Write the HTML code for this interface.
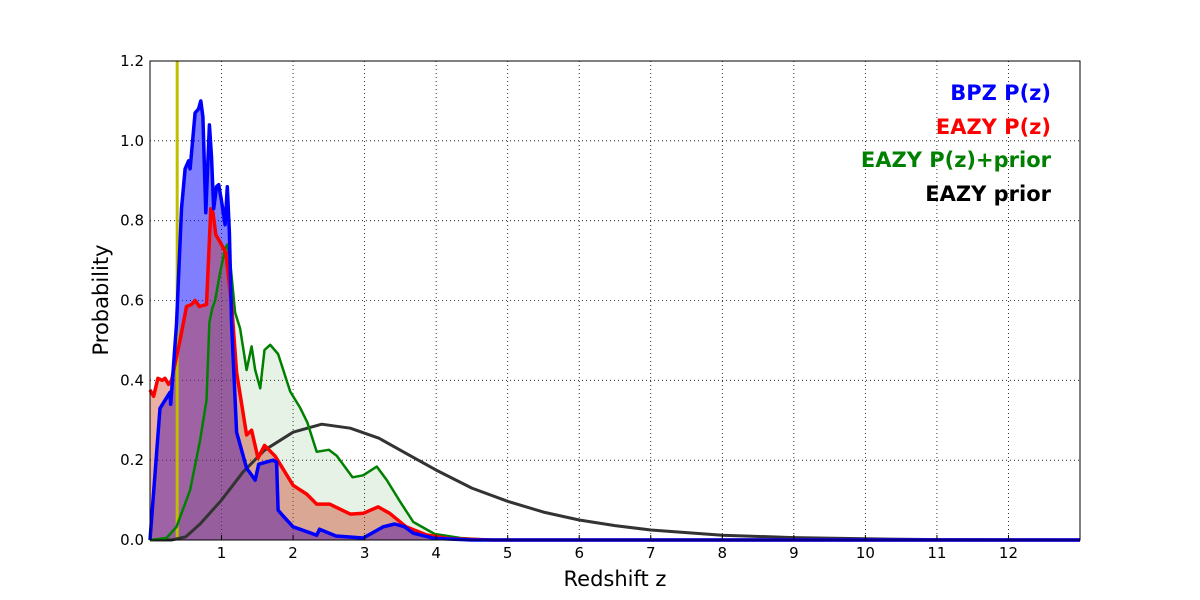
<!DOCTYPE html>
<html><head><meta charset="utf-8"><style>
html,body{margin:0;padding:0;background:#fff;width:1200px;height:600px;overflow:hidden}
svg{display:block}
</style></head><body>
<svg id="chart" width="1200" height="600" xmlns="http://www.w3.org/2000/svg" font-family="DejaVu Sans, Liberation Sans, sans-serif">
<g id="grid"></g>
<g id="fills"></g>
<g id="lines"></g>
<rect x="150" y="61" width="930" height="479" fill="none" stroke="#000" stroke-width="1"/>
<g id="ticks" font-size="15"></g>
<text x="615" y="586" font-size="21" text-anchor="middle">Redshift z</text>
<text x="108" y="300" font-size="21" text-anchor="middle" transform="rotate(-90 108 300)">Probability</text>
<g font-size="21" font-weight="bold" text-anchor="end">
<text x="1051" y="100" fill="#0000ff">BPZ P(z)</text>
<text x="1051" y="134" fill="#ff0000">EAZY P(z)</text>
<text x="1051" y="167" fill="#008000">EAZY P(z)+prior</text>
<text x="1051" y="201" fill="#000">EAZY prior</text>
</g>
</svg>
<script>
const xTicks=[1,2,3,4,5,6,7,8,9,10,11,12];
const yTicks=[0.0,0.2,0.4,0.6,0.8,1.0,1.2];
const yTickLabels=["0.0","0.2","0.4","0.6","0.8","1.0","1.2"];
const bpz=[[0,0],[0.14,0.33],[0.28,0.37],[0.29,0.34],[0.37,0.54],[0.44,0.83],[0.49,0.93],[0.54,0.95],[0.56,0.93],[0.63,1.07],[0.68,1.08],[0.71,1.10],[0.74,1.06],[0.78,0.82],[0.83,1.04],[0.86,0.96],[0.89,0.83],[0.93,0.885],[0.96,0.89],[1.0,0.85],[1.05,0.79],[1.08,0.885],[1.11,0.77],[1.14,0.54],[1.21,0.27],[1.35,0.18],[1.47,0.15],[1.52,0.19],[1.72,0.20],[1.77,0.195],[1.79,0.075],[1.86,0.06],[2.0,0.033],[2.33,0.012],[2.37,0.027],[2.6,0.01],[2.98,0.005],[3.26,0.033],[3.42,0.04],[3.56,0.033],[3.68,0.017],[3.98,0.004],[4.5,0],[13,0]];
const eazy=[[0,0.376],[0.05,0.36],[0.11,0.405],[0.17,0.40],[0.21,0.405],[0.26,0.39],[0.3,0.40],[0.42,0.5],[0.51,0.585],[0.58,0.59],[0.63,0.60],[0.69,0.585],[0.79,0.59],[0.85,0.83],[0.88,0.82],[0.92,0.765],[1.0,0.74],[1.06,0.72],[1.14,0.59],[1.21,0.42],[1.35,0.263],[1.42,0.275],[1.51,0.205],[1.6,0.237],[1.75,0.21],[2.0,0.137],[2.19,0.115],[2.33,0.09],[2.51,0.09],[2.8,0.065],[2.98,0.067],[3.19,0.083],[3.35,0.067],[3.58,0.033],[3.86,0.013],[4.2,0.003],[4.8,0],[13,0]];
const eazyPrior=[[0,0],[0.23,0.005],[0.37,0.033],[0.56,0.125],[0.7,0.25],[0.79,0.35],[0.83,0.545],[0.87,0.58],[0.91,0.6],[0.98,0.67],[1.05,0.73],[1.08,0.74],[1.12,0.7],[1.19,0.57],[1.26,0.53],[1.35,0.426],[1.42,0.485],[1.47,0.426],[1.54,0.38],[1.6,0.476],[1.68,0.489],[1.79,0.466],[1.96,0.372],[2.1,0.331],[2.2,0.294],[2.33,0.221],[2.5,0.226],[2.61,0.211],[2.83,0.157],[2.98,0.162],[3.17,0.184],[3.31,0.15],[3.5,0.095],[3.68,0.045],[3.98,0.015],[4.34,0.005],[4.8,0],[13,0]];
const prior=[[0,0],[0.3,0],[0.5,0.008],[0.7,0.04],[1.0,0.1],[1.3,0.17],[1.6,0.225],[2.0,0.27],[2.4,0.29],[2.8,0.28],[3.2,0.255],[3.6,0.215],[4.0,0.175],[4.5,0.13],[5,0.097],[5.5,0.07],[6,0.05],[6.5,0.036],[7,0.025],[8,0.012],[9,0.006],[10,0.003],[11,0.001],[13,0]];
const zMarker=0.38;

const NS="http://www.w3.org/2000/svg";
const X=z=>150+z*(930/13);
const Y=p=>540-p*(479/1.2);
function mk(parent,tag,attrs){const e=document.createElementNS(NS,tag);for(const k in attrs)e.setAttribute(k,attrs[k]);document.getElementById(parent).appendChild(e);return e;}
const grid=document.getElementById('grid');
xTicks.forEach(t=>{
 const l=mk('grid','line',{x1:X(t),x2:X(t),y1:61,y2:540,stroke:'#000','stroke-width':0.8,'stroke-dasharray':'1,3'});
 
 
 const tk=mk('ticks','line',{x1:X(t),x2:X(t),y1:540,y2:535,stroke:'#000'});
 
 
 const tx=mk('ticks','text',{x:X(t),y:558,'text-anchor':'middle'});tx.textContent=t;
 
 
});
yTicks.forEach((t,i)=>{
 if(t>0&&t<1.2){const l=mk('grid','line',{x1:150,x2:1080,y1:Y(t),y2:Y(t),stroke:'#000','stroke-width':0.8,'stroke-dasharray':'1,3'});
 
 }
 const tx=mk('ticks','text',{x:144,y:Y(t)+5,'text-anchor':'end'});tx.textContent=yTickLabels[i];
 
 
});
const pts=d=>d.map(p=>X(p[0]).toFixed(1)+','+Y(p[1]).toFixed(1)).join(' L');
const area=d=>'M'+X(d[0][0])+','+Y(0)+' L'+pts(d)+' L'+X(d[d.length-1][0])+','+Y(0)+' Z';
let f;
f=mk('fills','path',{d:area(eazyPrior),fill:'rgba(0,128,0,0.1)'});


f=mk('fills','path',{d:area(bpz),fill:'rgba(0,0,255,0.5)'});


f=mk('fills','path',{d:area(eazy),fill:'rgba(205,55,30,0.4)'});


let l;
l=mk('lines','line',{x1:X(zMarker),x2:X(zMarker),y1:61,y2:540,stroke:'#bfbf00','stroke-width':3});


l=mk('lines','path',{d:'M'+pts(prior),fill:'none',stroke:'#333','stroke-width':3,'stroke-linejoin':'round'});


l=mk('lines','path',{d:'M'+pts(eazyPrior),fill:'none',stroke:'#008000','stroke-width':2.5,'stroke-linejoin':'round'});


l=mk('lines','path',{d:'M'+pts(eazy),fill:'none',stroke:'#ff0000','stroke-width':3.5,'stroke-linejoin':'round'});


l=mk('lines','path',{d:'M'+pts(bpz),fill:'none',stroke:'#0000ff','stroke-width':3.5,'stroke-linejoin':'round'});


</script>
</body></html>
